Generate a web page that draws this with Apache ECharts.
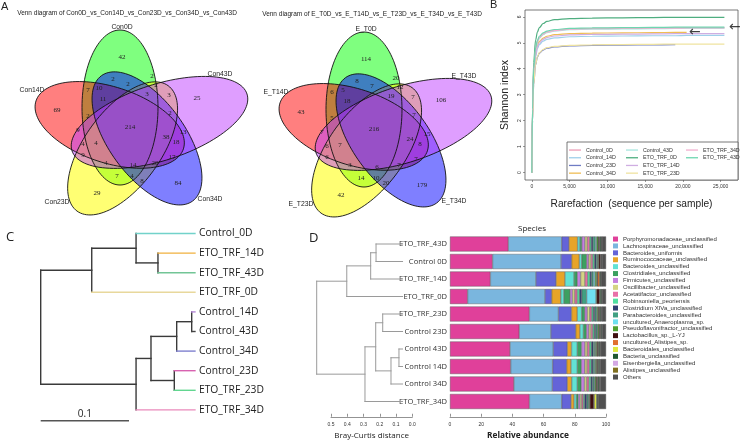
<!DOCTYPE html>
<html><head><meta charset="utf-8">
<script src="https://cdn.jsdelivr.net/npm/echarts@6/dist/echarts.min.js"></script>
<style>html,body{margin:0;padding:0;background:#fff}#c{width:740px;height:441px}</style>
</head><body><div id="c"></div>
<script>
// ---------------- Panel A: Venn diagrams ----------------
const venn1Sets = ['Con0D','Con43D','Con34D','Con23D','Con14D'];
const venn2Sets = ['E_T0D','E_T43D','E_T34D','E_T23D','E_T14D'];
const vennFill = ['rgba(0,255,0,0.5)','rgba(191,62,255,0.5)','rgba(0,0,255,0.5)','rgba(255,255,0,0.55)','rgba(255,0,0,0.5)'];
const vennDrawOrder = [0,4,3,2,1];
// ellipse layout (relative to diagram centre): centre offsets, semi-axes and axis angles
const ellCentres = [[-10,-20.5],[29.5,-5.6],[17,10.4],[-7.4,20.4],[-20.3,-3.1]];
const ellMajor = [77.5,92,77.5,77.5,77.5];
const ellMinor = [38,38,38,38,38];
const ellAngles = [0,72,144,216,288];
// region label layout (relative to diagram centre)
const regionPos = [[-8,-71],[-17,-49],[22,-52],[-42,-38],[-31,-40],[-2,-44],[26,-43],[39,-33],[67,-30],[-73,-18],
  [-27,-29],[17,-34],[-42,-12],[40,-15],[-52,2],[0,-1],[36,9],[53,4],[46,14],[-47,16],
  [-34,15],[-47,27],[-24,35],[3,37],[25,35],[42,29],[-13,48],[2,48],[12,53],[48,55],[-33,65]];
const venn1Counts = [42,2,2,7,10,2,2,3,25,69,11,3,2,2,9,214,38,13,18,4,4,9,4,14,20,17,7,4,8,84,29];
const venn2Counts = [114,8,20,6,5,7,12,7,106,43,18,19,5,7,7,216,24,15,8,6,7,6,3,6,7,7,14,10,20,179,42];
const setLabelPos = [[-8,-101],[90,-54],[80,71],[-73,74],[-98,-38]];

// ---------------- Panel B: rarefaction ----------------
const rareNames = ['Control_0D','Control_14D','Control_23D','Control_34D','Control_43D','ETO_TRF_0D','ETO_TRF_14D','ETO_TRF_23D','ETO_TRF_34D','ETO_TRF_43D'];
const rareColors = ['#ec9db6','#9fd0ea','#6f7cc4','#efbd55','#a6e6de','#4fae80','#cfaee2','#efe3a0','#f2afcf','#6ed6b0'];
const rareX = [0,100,250,500,750,1000,1500,2000,3000,5000,8000,12000,16000,19000,20500,25500];
const rare_Control_0D  = [0,2.4,3.95,4.75,5.05,5.2,5.34,5.42,5.48,5.53,5.55,5.56,5.57,5.57,5.58,5.58];
const rare_Control_14D = [0,2.2,3.7,4.45,4.78,4.93,5.06,5.13,5.19,5.23,5.25,5.26,5.27,5.27,5.28,5.28];
const rare_Control_23D = [0,2.0,3.4,4.15,4.45,4.6,4.72,4.79,4.84,4.88,4.9,4.91,4.92,4.93,null,null];
const rare_Control_34D = [0,2.3,3.8,4.58,4.9,5.05,5.18,5.25,5.31,5.35,5.37,5.38,5.39,5.4,5.4,null];
const rare_Control_43D = [0,2.4,3.9,4.7,5.02,5.17,5.31,5.39,5.45,5.5,5.52,5.53,5.54,5.55,5.55,5.55];
const rare_ETO_TRF_0D  = [0,2.6,4.25,5.1,5.42,5.58,5.74,5.82,5.89,5.93,5.95,5.96,5.97,5.98,5.98,5.98];
const rare_ETO_TRF_14D = [0,2.25,3.75,4.52,4.84,4.99,5.13,5.2,5.26,5.3,5.32,5.33,5.34,5.35,5.35,5.35];
const rare_ETO_TRF_23D = [0,2.0,3.4,4.17,4.47,4.62,4.74,4.81,4.86,4.9,4.92,4.93,4.94,4.95,4.95,4.95];
const rare_ETO_TRF_34D = [0,2.4,3.95,4.74,5.04,5.19,5.33,5.41,5.47,5.52,5.54,5.55,5.56,5.56,5.57,5.57];
const rare_ETO_TRF_43D = [0,2.45,4.0,4.8,5.1,5.25,5.38,5.45,5.51,5.55,5.57,5.58,5.59,5.6,5.6,5.6];
const rareValues = [rare_Control_0D,rare_Control_14D,rare_Control_23D,rare_Control_34D,rare_Control_43D,rare_ETO_TRF_0D,rare_ETO_TRF_14D,rare_ETO_TRF_23D,rare_ETO_TRF_34D,rare_ETO_TRF_43D];
const rareXTicks = [0,5000,10000,15000,20000,25000];
const rareYTicks = [0,1,2,3,4,5,6];
const rareArrows = [[21600,5.4],[26900,5.6]];

// ---------------- Panel C: tree ----------------
const cLeaves = ['Control_0D','ETO_TRF_14D','ETO_TRF_43D','ETO_TRF_0D','Control_14D','Control_43D','Control_34D','Control_23D','ETO_TRF_23D','ETO_TRF_34D'];
const cLeafColors = ['#72d2ca','#f0b03e','#72c596','#e8d89c','#b587d6','#444444','#7f80cf','#d862b0','#62d690','#ea8abb'];
const cMerges = [[1,2,0.1328],[0,10,0.108],[11,3,0.0578],[4,5,0.171],[13,6,0.154],[7,8,0.1513],[14,15,0.1249],[16,9,0.108],[12,17,0]];
const cLeafDepth = 0.1747;
const cScale = 0.1;

// ---------------- Panel D: tree + stacked bars ----------------
const dLeaves = ['ETO_TRF_43D','Control 0D','ETO_TRF_14D','ETO_TRF_0D','ETO_TRF_23D','Control 23D','Control 43D','Control 14D','Control 34D','ETO_TRF_34D'];
const dMerges = [[0,1,0.223],[10,2,0.256],[11,3,0.403],[4,5,0.182],[6,7,0.082],[14,8,0.131],[13,15,0.225],[16,9,0.291],[12,17,0.588]];
const dLeafDepth = 0.06;
const species = ['Porphyromonadaceae_unclassified','Lachnospiraceae_unclassified','Bacteroides_uniformis','Ruminococcaceae_unclassified','Bacteroides_unclassified','Clostridiales_unclassified','Firmicutes_unclassified','Oscillibacter_unclassified','Acetatifactor_unclassified','Robinsoniella_peoriensis','Clostridium XIVa_unclassified','Parabacteroides_unclassified','uncultured_Anaeroplasma_sp.','Pseudoflavonifractor_unclassified','Lactobacillus_sp._L-YJ','uncultured_Alistipes_sp.','Bacteroidales_unclassified','Bacteria_unclassified','Eisenbergiella_unclassified','Alistipes_unclassified','Others'];
const speciesColors = ['#e0409a','#7ab6de','#6464d8','#e8a428','#62e2d4','#3ca060','#c480e0','#d4d484','#e870a8','#50e0a0','#304070','#40a082','#70e0f0','#50a030','#401010','#e07030','#e0e840','#205830','#d4a8e4','#807020','#505050'];
const ab_ETO_TRF_43D = [37.4,34.2,4.7,5.5,1.5,1.2,2.0,1.5,1.5,1.0,1.2,1.5,0.8,1.0,0.6,0.3,0.3,0.8,0.2,0.2,2.6];
const ab_Control_0D  = [27.3,43.9,6.8,4.9,1.5,3.2,1.3,1.5,1.1,1.1,1.1,0.9,0.3,0.5,1.0,0.3,0.3,0.3,0.2,0.2,2.3];
const ab_ETO_TRF_14D = [25.9,29.2,12.9,5.7,5.8,2.1,2.1,2.8,1.7,1.5,1.1,1.1,1.1,1.1,0.6,1.2,0.3,0.6,0.2,0.2,2.8];
const ab_ETO_TRF_0D  = [11.3,49.6,4.3,5.8,2.0,4.0,1.5,1.5,1.5,1.5,1.5,3.1,6.0,0.5,1.6,0.3,0.3,1.0,0.2,0.2,2.3];
const ab_ETO_TRF_23D = [50.9,18.6,8.4,3.7,2.8,2.0,1.6,1.6,1.2,1.0,1.0,1.0,0.5,0.8,0.6,0.3,0.3,0.6,0.3,0.2,2.6];
const ab_Control_23D = [44.4,20.3,15.9,2.7,2.2,2.0,1.5,1.4,1.1,1.0,0.9,1.0,0.4,0.8,0.5,0.3,0.3,0.6,0.3,0.2,2.2];
const ab_Control_43D = [38.5,27.7,9.0,2.7,3.7,2.7,2.2,1.5,1.4,1.2,1.2,1.0,0.5,0.8,0.6,0.3,0.3,0.8,0.3,0.3,3.3];
const ab_Control_14D = [38.9,26.9,9.0,2.8,4.0,2.6,2.2,1.5,1.4,1.2,1.2,1.0,0.5,0.8,0.6,0.3,0.3,0.8,0.3,0.3,3.4];
const ab_Control_34D = [41.0,24.6,9.6,2.8,3.6,2.5,2.1,1.5,1.4,1.2,1.1,1.0,0.5,0.8,0.6,0.3,0.3,0.8,0.3,0.3,3.7];
const ab_ETO_TRF_34D = [50.9,20.7,6.0,1.9,1.5,1.2,1.2,1.0,1.0,0.8,1.5,1.0,0.4,0.6,2.5,0.3,1.5,0.6,0.2,0.2,5.0];
const abundRows = [ab_ETO_TRF_43D,ab_Control_0D,ab_ETO_TRF_14D,ab_ETO_TRF_0D,ab_ETO_TRF_23D,ab_Control_23D,ab_Control_43D,ab_Control_14D,ab_Control_34D,ab_ETO_TRF_34D];

// ---------------- helpers ----------------
const SANS = '"Liberation Sans", Arial, sans-serif';
const SERIF = '"Liberation Serif", "Times New Roman", serif';
const OPEN = '"Open Sans", "Noto Sans", sans-serif';

function ellipsePoints(i, api){
  const phi = ellAngles[i]*Math.PI/180, c = Math.cos(phi), s = Math.sin(phi);
  const cx = ellCentres[i][0], cy = ellCentres[i][1];
  const pts = [];
  for (let k=0;k<120;k++){
    const t = k/120*2*Math.PI;
    const lx = ellMinor[i]*Math.cos(t), ly = ellMajor[i]*Math.sin(t);
    pts.push(api.coord([cx + lx*c - ly*s, cy + lx*s + ly*c]));
  }
  return pts;
}
function vennSeries(ax, sets, counts){
  const out = [];
  out.push({type:'custom', xAxisIndex:ax, yAxisIndex:ax, silent:true, z:1,
    data: vennDrawOrder.map(i=>[ellCentres[i][0],ellCentres[i][1],i]),
    renderItem:(p,api)=>{ const i = vennDrawOrder[p.dataIndex];
      return {type:'polygon', shape:{points:ellipsePoints(i,api)}, style:{fill:vennFill[i], stroke:null}}; }});
  out.push({type:'custom', xAxisIndex:ax, yAxisIndex:ax, silent:true, z:2,
    data: sets.map((n,i)=>[ellCentres[i][0],ellCentres[i][1],i]),
    renderItem:(p,api)=>({type:'polygon', shape:{points:ellipsePoints(p.dataIndex,api)}, style:{fill:'none', stroke:'#111', lineWidth:0.9}})});
  out.push({type:'custom', xAxisIndex:ax, yAxisIndex:ax, silent:true, z:3,
    data: regionPos.map((q,i)=>[q[0],q[1],counts[i]]),
    renderItem:(p,api)=>{ const pt = api.coord([api.value(0),api.value(1)]);
      return {type:'text', x:pt[0], y:pt[1], style:{text:String(counts[p.dataIndex]), fill:'#222', font:'7px '+SERIF, align:'center', verticalAlign:'middle', textAlign:'center', textVerticalAlign:'middle'}}; }});
  out.push({type:'custom', xAxisIndex:ax, yAxisIndex:ax, silent:true, z:3,
    data: setLabelPos.map((q,i)=>[q[0],q[1],i]),
    renderItem:(p,api)=>{ const pt = api.coord([api.value(0),api.value(1)]);
      return {type:'text', x:pt[0], y:pt[1], style:{text:sets[p.dataIndex], fill:'#222', font:'6.8px '+SANS, align:'center', verticalAlign:'middle', textAlign:'center', textVerticalAlign:'middle'}}; }});
  return out;
}
function buildTree(n, merges, leafEnd, leafColors, inner){
  const pos = []; for (let i=0;i<n;i++) pos.push([leafEnd,i]);
  const segs = [];
  merges.forEach(([a,b,h])=>{
    const pa = pos[a], pb = pos[b];
    segs.push([h,pa[1],h,pb[1],inner]);
    segs.push([h,pa[1],pa[0],pa[1], a<n && leafColors ? leafColors[a] : inner]);
    segs.push([h,pb[1],pb[0],pb[1], b<n && leafColors ? leafColors[b] : inner]);
    pos.push([h,(pa[1]+pb[1])/2]);
  });
  return segs;
}
function treeSeries(ax, segs, width){
  return {type:'custom', xAxisIndex:ax, yAxisIndex:ax, silent:true, z:3,
    data: segs.map(s=>[s[0],s[1],s[2],s[3]]),
    renderItem:(p,api)=>{ const s = segs[p.dataIndex];
      const p1 = api.coord([s[0],s[1]]), p2 = api.coord([s[2],s[3]]);
      return {type:'line', shape:{x1:p1[0],y1:p1[1],x2:p2[0],y2:p2[1]}, style:{stroke:s[4], lineWidth:width, lineCap:'square'}}; }};
}

const cSegs = buildTree(cLeaves.length, cMerges, cLeafDepth, cLeafColors, '#3a3a3a');
const dSegs = buildTree(dLeaves.length, dMerges, dLeafDepth, null, '#9a9a9a');

const series = [];
series.push(...vennSeries(0, venn1Sets, venn1Counts));
series.push(...vennSeries(1, venn2Sets, venn2Counts));
rareNames.forEach((n,i)=>{
  series.push({name:n, type:'line', xAxisIndex:2, yAxisIndex:2, showSymbol:false, symbol:'none', smooth:0.35, smoothMonotone:'x',
    color:rareColors[i], lineStyle:{width:1.2, color:rareColors[i]}, z:2,
    data: rareX.map((x,k)=> rareValues[i][k]==null ? null : [x, rareValues[i][k]])});
});
series.push({type:'scatter', xAxisIndex:2, yAxisIndex:2, symbolSize:1, itemStyle:{color:'rgba(0,0,0,0)'}, silent:true, z:5,
  data: rareArrows, label:{show:true, position:'inside', formatter:'←', fontSize:14, color:'#111', fontFamily:'"DejaVu Sans", sans-serif'}});
series.push(treeSeries(3, cSegs, 1.4));
series.push({type:'custom', xAxisIndex:3, yAxisIndex:3, silent:true, z:3,
  data: cLeaves.map((n,i)=>[cLeafDepth,i]),
  renderItem:(p,api)=>{ const pt = api.coord([api.value(0),api.value(1)]);
    return {type:'text', x:pt[0]+4, y:pt[1], style:{text:cLeaves[p.dataIndex], fill:'#222', font:'10.3px '+OPEN, align:'left', verticalAlign:'middle', textAlign:'left', textVerticalAlign:'middle'}}; }});
series.push({type:'custom', xAxisIndex:3, yAxisIndex:3, silent:true, z:3,
  data: [[0, 9.55, cScale]],
  renderItem:(p,api)=>{ const a = api.coord([0,9.55]), b = api.coord([cScale,9.55]);
    return {type:'group', children:[
      {type:'line', shape:{x1:a[0],y1:a[1],x2:b[0],y2:b[1]}, style:{stroke:'#555', lineWidth:1.4}},
      {type:'text', x:(a[0]+b[0])/2, y:a[1]-1.5, style:{text:String(cScale), fill:'#222', font:'10px '+OPEN, align:'center', verticalAlign:'bottom', textAlign:'center', textVerticalAlign:'bottom'}}]}; }});
series.push(treeSeries(4, dSegs, 1));
species.forEach((sp,j)=>{
  series.push({name:sp, type:'bar', stack:'abund', xAxisIndex:5, yAxisIndex:5, barWidth:15, z:2,
    color:speciesColors[j], itemStyle:{color:speciesColors[j], borderColor:'#4a4a4a', borderWidth:0.4},
    data: abundRows.map(r=>r[j])});
});

const tickLab = {fontSize:5, color:'#333', fontFamily:SANS};
const option = {
  animation:false,
  backgroundColor:'#fff',
  textStyle:{fontFamily:SANS},
  grid:[
    {left:0, top:0, width:250, height:230},
    {left:244, top:2, width:250, height:230},
    {left:525, top:10, width:213, height:170, show:true, borderColor:'#555', borderWidth:0.8, backgroundColor:'#fff'},
    {left:40.7, top:223.7, width:176.6, height:196},
    {left:331, top:235.25, width:81.3, height:175},
    {left:450, top:235.25, width:156, height:175}
  ],
  xAxis:[
    {gridIndex:0, type:'value', min:-130, max:120, show:false},
    {gridIndex:1, type:'value', min:-130, max:120, show:false},
    {gridIndex:2, type:'value', min:-900, max:27300, splitLine:{show:false}, axisLine:{show:false, onZero:false},
      axisTick:{show:true, length:2, customValues:rareXTicks, lineStyle:{color:'#555', width:0.6}},
      axisLabel:{customValues:rareXTicks, margin:4, ...tickLab},
      name:'Rarefaction  (sequence per sample)', nameLocation:'middle', nameGap:19,
      nameTextStyle:{fontSize:10.2, color:'#222', fontFamily:SANS}},
    {gridIndex:3, type:'value', min:0, max:0.2, show:false},
    {gridIndex:4, type:'value', min:0, max:0.5, interval:0.1, inverse:true, offset:6.5, splitLine:{show:false},
      axisLine:{show:true, onZero:false, lineStyle:{color:'#777', width:0.8}},
      axisTick:{show:true, inside:true, length:3, lineStyle:{color:'#777', width:0.8}},
      axisLabel:{margin:5, formatter:v=>v.toFixed(1), ...tickLab},
      name:'Bray-Curtis distance', nameLocation:'middle', nameGap:15,
      nameTextStyle:{fontSize:8, color:'#222', fontFamily:OPEN}},
    {gridIndex:5, type:'value', min:0, max:100, interval:20, offset:6.5, splitLine:{show:false},
      axisLine:{show:true, onZero:false, lineStyle:{color:'#777', width:0.8}},
      axisTick:{show:true, inside:true, length:3, lineStyle:{color:'#777', width:0.8}},
      axisLabel:{margin:5, ...tickLab},
      name:'Relative abundance', nameLocation:'middle', nameGap:15,
      nameTextStyle:{fontSize:8.3, fontWeight:'bold', color:'#222', fontFamily:OPEN}}
  ],
  yAxis:[
    {gridIndex:0, type:'value', min:-128, max:102, inverse:true, show:false},
    {gridIndex:1, type:'value', min:-128, max:102, inverse:true, show:false},
    {gridIndex:2, type:'value', min:-0.28, max:6.26, splitLine:{show:false}, axisLine:{show:false, onZero:false},
      axisTick:{show:true, length:2, customValues:rareYTicks, lineStyle:{color:'#555', width:0.6}},
      axisLabel:{customValues:rareYTicks, rotate:90, margin:3, ...tickLab},
      name:'Shannon index', nameLocation:'middle', nameGap:14, nameRotate:90,
      nameTextStyle:{fontSize:10.5, color:'#222', fontFamily:SANS}},
    {gridIndex:3, type:'value', min:-0.5, max:9.5, inverse:true, show:false},
    {gridIndex:4, type:'value', min:-0.5, max:9.5, inverse:true, show:false},
    {gridIndex:5, type:'category', data:dLeaves, inverse:true, axisLine:{show:false}, axisTick:{show:false},
      axisLabel:{fontSize:7.6, color:'#333', margin:3, fontFamily:OPEN}}
  ],
  legend:[
    {data:rareNames.slice(0,4), orient:'vertical', left:569, top:147.3, itemWidth:12, itemHeight:1.3, itemGap:2.2, icon:'rect', padding:0, selectedMode:false, textStyle:{fontSize:5.3, lineHeight:5.5, color:'#333', fontFamily:SANS}},
    {data:rareNames.slice(4,8), orient:'vertical', left:626, top:147.3, itemWidth:12, itemHeight:1.3, itemGap:2.2, icon:'rect', padding:0, selectedMode:false, textStyle:{fontSize:5.3, lineHeight:5.5, color:'#333', fontFamily:SANS}},
    {data:rareNames.slice(8), orient:'vertical', left:686, top:147.3, itemWidth:12, itemHeight:1.3, itemGap:2.2, icon:'rect', padding:0, selectedMode:false, textStyle:{fontSize:5.3, lineHeight:5.5, color:'#333', fontFamily:SANS}},
    {data:species, orient:'vertical', left:613, top:235.6, itemWidth:5, itemHeight:5, itemGap:0, icon:'rect', padding:0, selectedMode:false, itemStyle:{borderWidth:0}, textStyle:{fontSize:6, lineHeight:6.9, color:'#333', fontFamily:SANS}}
  ],
  graphic:[
    {type:'rect', z:3, shape:{x:567, y:142, width:171, height:38}, style:{fill:'#fff', stroke:'#555', lineWidth:0.8}},
    {type:'text', x:1, y:1, style:{text:'A', font:'11px '+SANS, fill:'#222', textVerticalAlign:'top', verticalAlign:'top'}},
    {type:'text', x:127, y:13, style:{text:'Venn diagram of Con0D_vs_Con14D_vs_Con23D_vs_Con34D_vs_Con43D', font:'6.5px '+SANS, fill:'#222', textAlign:'center', align:'center', textVerticalAlign:'middle', verticalAlign:'middle'}},
    {type:'text', x:372, y:14, style:{text:'Venn diagram of E_T0D_vs_E_T14D_vs_E_T23D_vs_E_T34D_vs_E_T43D', font:'6.5px '+SANS, fill:'#222', textAlign:'center', align:'center', textVerticalAlign:'middle', verticalAlign:'middle'}},
    {type:'text', x:490, y:-1, style:{text:'B', font:'11px '+SANS, fill:'#222', textVerticalAlign:'top', verticalAlign:'top'}},
    {type:'text', x:6, y:237.5, style:{text:'C', font:'13px '+OPEN, fill:'#222', textVerticalAlign:'middle', verticalAlign:'middle'}},
    {type:'text', x:309, y:238.5, style:{text:'D', font:'13px '+OPEN, fill:'#222', textVerticalAlign:'middle', verticalAlign:'middle'}},
    {type:'text', x:532, y:229, style:{text:'Species', font:'8px '+OPEN, fill:'#222', textAlign:'center', align:'center', textVerticalAlign:'middle', verticalAlign:'middle'}}
  ],
  series: series
};
const chart = echarts.init(document.getElementById('c'), null, {renderer:'canvas', width:740, height:441});
chart.setOption(option);
</script>
</body></html>
